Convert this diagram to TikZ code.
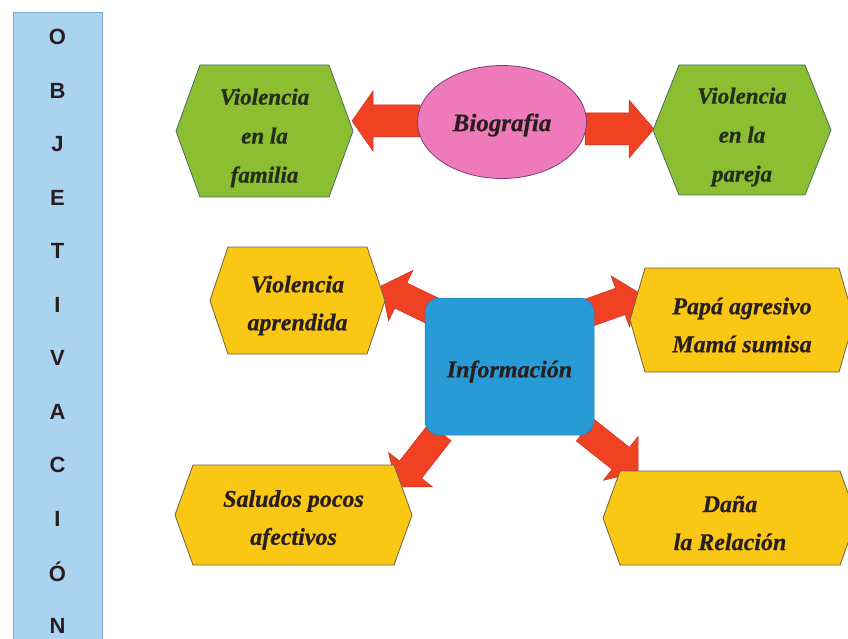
\documentclass[tikz,border=0pt]{standalone}
\usepackage{fontspec}
\setmainfont{Liberation Serif}
\newfontfamily\barfont{Liberation Sans}
\newfontfamily\lblfont{Liberation Serif Bold Italic}[FakeBold=0.7]
\usetikzlibrary{calc,shapes.geometric}
\definecolor{barblue}{RGB}{170,211,240}
\definecolor{barline}{RGB}{120,170,215}
\definecolor{hexgreen}{RGB}{140,190,50}
\definecolor{greenline}{RGB}{70,110,100}
\definecolor{hexyellow}{RGB}{250,200,20}
\definecolor{yellowline}{RGB}{110,95,70}
\definecolor{pinkfill}{RGB}{238,122,185}
\definecolor{pinkline}{RGB}{120,60,130}
\definecolor{arrowred}{RGB}{240,65,35}
\definecolor{arrowedge}{RGB}{205,45,30}
\definecolor{infoblue}{RGB}{40,155,215}
\definecolor{txt}{RGB}{40,30,30}
\definecolor{gtxt}{RGB}{35,45,25}
\tikzset{
  lbl/.style={font=\lblfont\fontsize{24}{38}\selectfont, align=center, text=txt, inner sep=0pt, yshift=-5pt},
  glbl/.style={font=\lblfont\fontsize{23}{39}\selectfont, align=center, text=gtxt, inner sep=0pt, yshift=-7pt},
  barletter/.style={font=\barfont\bfseries\fontsize{22}{22}\selectfont, text=txt, inner sep=0pt},
  hexgreenstyle/.style={fill=hexgreen, draw=greenline, line width=0.8pt},
  hexyellowstyle/.style={fill=hexyellow, draw=yellowline, line width=0.8pt},
  arrowstyle/.style={fill=arrowred, draw=arrowedge, line width=0.5pt, line join=miter}
}
% #1 name, #2 cx, #3 cy, #4 width, #5 height, #6 inset, #7 style, #8 text style, #9 text
\newcommand\hexnode[9]{%
  \path[#7] (#2-#4/2,#3) -- (#2-#4/2+#6,#3-#5/2) -- (#2+#4/2-#6,#3-#5/2) -- (#2+#4/2,#3)
    -- (#2+#4/2-#6,#3+#5/2) -- (#2-#4/2+#6,#3+#5/2) -- cycle;
  \node[#8] (#1) at (#2,#3) {#9};}
% #1 tail, #2 tip, #3 half shaft, #4 half head, #5 head length
\newcommand\fatarrow[5]{%
  \coordinate (fabase) at ($(#2)!#5!(#1)$);
  \path[arrowstyle] ($(#1)!#3!90:(#2)$) -- ($(fabase)!#3!90:(#2)$) -- ($(fabase)!#4!90:(#2)$)
    -- (#2) -- ($(fabase)!#4!-90:(#2)$) -- ($(fabase)!#3!-90:(#2)$) -- ($(#1)!#3!-90:(#2)$) -- cycle;}
\begin{document}
\begin{tikzpicture}[x=1pt,y=-1pt]
\useasboundingbox (0,0) rectangle (848,639);
\clip (0,0) rectangle (848,639);
\fill[white] (0,0) rectangle (848,639);
% side bar
\path[fill=barblue, draw=barline, line width=0.8pt] (13,12) rectangle (102,660);
\foreach \ch [count=\i] in {O,B,J,E,T,I,V,A,C,I,Ó,N}
  \node[barletter] (bar\i) at (57.5,{37+53.5*(\i-1)}) {\ch};
% connector end points
\coordinate (a1t) at (420,121); \coordinate (a1h) at (352,121);
\coordinate (a2t) at (585,129); \coordinate (a2h) at (654,129);
\coordinate (a3t) at (437,313); \coordinate (a3h) at (381,286);
\coordinate (a4t) at (588,313); \coordinate (a4h) at (641,294);
\coordinate (a5t) at (440,432); \coordinate (a5h) at (397,487);
\coordinate (a6t) at (585,430); \coordinate (a6h) at (638,472);
% arrows (drawn under the shapes)
\fatarrow{a1t}{a1h}{16pt}{30pt}{21pt}
\fatarrow{a2t}{a2h}{16pt}{29pt}{25pt}
\fatarrow{a3t}{a3h}{14pt}{28pt}{22pt}
\fatarrow{a4t}{a4h}{14pt}{27pt}{22pt}
\fatarrow{a5t}{a5h}{14pt}{28pt}{22pt}
\fatarrow{a6t}{a6h}{14pt}{28pt}{22pt}
% top row
\hexnode{vf}{264.5}{131}{177}{132}{24}{hexgreenstyle}{glbl}{Violencia\\en la\\familia}
\hexnode{vp}{742}{130}{178}{130}{26}{hexgreenstyle}{glbl}{Violencia\\en la\\pareja}
\node[ellipse, fill=pinkfill, draw=pinkline, line width=0.8pt, minimum width=169pt, minimum height=113pt] (bio) at (502,122) {};
\node[font=\lblfont\fontsize{25}{30}\selectfont, text=txt, inner sep=0pt, yshift=-3pt] (biot) at (bio.center) {Biografia};
% middle and bottom
\node[rounded corners=14pt, fill=infoblue, draw=infoblue!80!black, line width=0.5pt,
  minimum width=169pt, minimum height=137pt] (info) at (509.5,366.5) {};
\node[font=\lblfont\fontsize{24}{30}\selectfont, text=txt, inner sep=0pt, yshift=-5pt] (infot) at (info.center) {Información};
\hexnode{va}{297.5}{300.5}{175}{107}{18}{hexyellowstyle}{lbl}{Violencia\\aprendida}
\hexnode{pm}{742}{320}{224}{104}{15}{hexyellowstyle}{lbl}{Papá agresivo\\Mamá sumisa}
\hexnode{sa}{293.5}{515}{237}{100}{18}{hexyellowstyle}{lbl}{Saludos pocos\\afectivos}
\hexnode{dr}{730}{518}{254}{94}{17}{hexyellowstyle}{lbl}{Daña\\la Relación}
\end{tikzpicture}
\end{document}
